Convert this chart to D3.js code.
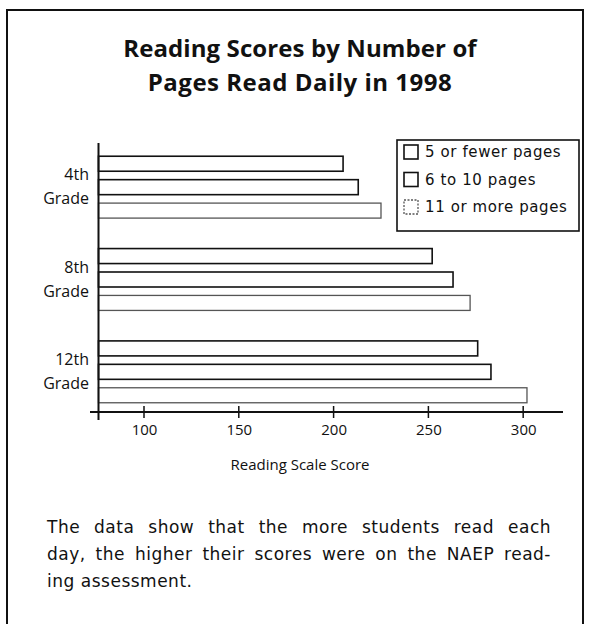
<!DOCTYPE html>
<html>
<head>
<meta charset="utf-8">
<script src="https://cdn.jsdelivr.net/npm/d3@7"></script>
<style>
  html, body { margin: 0; padding: 0; background: #fff; }
  svg { display: block; }
  text { font-family: "Open Sans", "DejaVu Sans", sans-serif; fill: #111; }
</style>
</head>
<body>
<svg id="chart" width="589" height="624"></svg>
<script>
// ---- Data ----
const titleLines = ["Reading Scores by Number of", "Pages Read Daily in 1998"];
const grades = ["4th", "8th", "12th"];
const gradeSub = "Grade";
const series = ["5 or fewer pages", "6 to 10 pages", "11 or more pages"];
const scoresFewer = [205, 252, 276];   // 5 or fewer pages
const scores6to10 = [213, 263, 283];   // 6 to 10 pages
const scores11plus = [225, 272, 302];  // 11 or more pages
const xTicks = [100, 150, 200, 250, 300];
const xDomain = [76, 321];
const xTitle = "Reading Scale Score";
const noteLines = [
  "The data show that the more students read each",
  "day, the higher their scores were on the NAEP read-",
  "ing assessment."
];

const valuesBySeries = [scoresFewer, scores6to10, scores11plus];
const rows = [];
grades.forEach((g, gi) => series.forEach((s, si) => rows.push({grade: g, series: s, si, value: valuesBySeries[si][gi]})));

const svg = d3.select("#chart");

// frame
svg.append("rect").attr("x", 7).attr("y", 10).attr("width", 576).attr("height", 640)
  .attr("fill", "none").attr("stroke", "#111").attr("stroke-width", 2);

// title
svg.selectAll("text.title").data(titleLines).join("text")
  .attr("class", "title")
  .attr("x", 300).attr("y", (d, i) => 57 + i * 34)
  .attr("text-anchor", "middle")
  .style("font-size", "24px").style("font-weight", "bold")
  .style("letter-spacing", (d, i) => i === 1 ? "0.5px" : "0.1px")
  .text(d => d);

// scales
const x = d3.scaleLinear().domain(xDomain).range([98.5, 563]);
const y0 = d3.scaleBand().domain(grades).range([147, 412]).paddingInner(0.33).paddingOuter(0.1);
const y1 = d3.scaleBand().domain(series).range([0, y0.bandwidth()]).paddingInner(0.36).paddingOuter(0);

const strokeStyle = [
  {stroke: "#111", width: 1.6},
  {stroke: "#111", width: 1.6},
  {stroke: "#555", width: 1.3}
];

// bars
svg.append("g").selectAll("rect").data(rows).join("rect")
  .attr("x", x(xDomain[0]))
  .attr("y", d => y0(d.grade) + y1(d.series))
  .attr("width", d => x(d.value) - x(xDomain[0]))
  .attr("height", y1.bandwidth())
  .attr("fill", "#fff")
  .attr("stroke", d => strokeStyle[d.si].stroke)
  .attr("stroke-width", d => strokeStyle[d.si].width);

// x axis
const xAxis = d3.axisBottom(x).tickValues(xTicks).tickSize(0).tickPadding(12);
const gx = svg.append("g").attr("transform", "translate(0,412)").call(xAxis);
gx.select(".domain").remove();
gx.selectAll("text").style("font-size", "15px").style("font-family", "'Open Sans', sans-serif").attr("fill", "#111");
svg.append("line").attr("x1", 90).attr("x2", x(xDomain[1])).attr("y1", 412).attr("y2", 412)
  .attr("stroke", "#111").attr("stroke-width", 2);
svg.append("g").selectAll("line").data(xTicks).join("line")
  .attr("x1", d => x(d)).attr("x2", d => x(d)).attr("y1", 406).attr("y2", 418)
  .attr("stroke", "#111").attr("stroke-width", 1.5);

// y axis line
svg.append("line").attr("x1", x(xDomain[0])).attr("x2", x(xDomain[0])).attr("y1", 143).attr("y2", 420)
  .attr("stroke", "#111").attr("stroke-width", 2);

// y labels
const gl = svg.append("g").selectAll("g").data(grades).join("g")
  .attr("transform", d => `translate(89,${y0(d) + y0.bandwidth() / 2})`);
gl.append("text").attr("text-anchor", "end").attr("y", -7).style("font-size", "16px").text(d => d);
gl.append("text").attr("text-anchor", "end").attr("y", 17).style("font-size", "16px").text(gradeSub);

// x title
svg.append("text").attr("x", 300).attr("y", 470).attr("text-anchor", "middle")
  .style("font-size", "15px").text(xTitle);

// legend
const lg = svg.append("g");
lg.append("rect").attr("x", 397).attr("y", 140).attr("width", 182).attr("height", 91)
  .attr("fill", "#fff").attr("stroke", "#111").attr("stroke-width", 1.6);
const li = lg.selectAll("g").data(series).join("g")
  .attr("transform", (d, i) => `translate(404,${152 + i * 27.5})`);
li.append("rect").attr("x", 0).attr("y", -7).attr("width", 14).attr("height", 14)
  .attr("fill", "#fff")
  .attr("stroke", (d, i) => strokeStyle[i].stroke)
  .attr("stroke-width", (d, i) => strokeStyle[i].width)
  .attr("stroke-dasharray", (d, i) => i === 2 ? "2,1.5" : null);
li.append("text").attr("x", 21).attr("y", 5)
  .style("font-family", "'DejaVu Sans', sans-serif").style("font-size", "15px")
  .style("letter-spacing", "0.6px")
  .text(d => d);

// note paragraph (justified)
const left = 47, right = 551;
noteLines.forEach((line, li2) => {
  const yy = 533 + li2 * 27;
  const words = line.split(" ");
  const g = svg.append("g");
  const ts = words.map(w => g.append("text").attr("y", yy)
    .style("font-family", "'DejaVu Sans', sans-serif").style("font-size", "17px")
    .style("letter-spacing", "0.5px").text(w));
  const widths = ts.map(t => t.node().getComputedTextLength());
  const total = d3.sum(widths);
  const justify = li2 < noteLines.length - 1;
  const gap = justify ? (right - left - total) / (words.length - 1) : 6;
  let cx = left;
  ts.forEach((t, i) => { t.attr("x", cx); cx += widths[i] + gap; });
});
</script>
</body>
</html>
